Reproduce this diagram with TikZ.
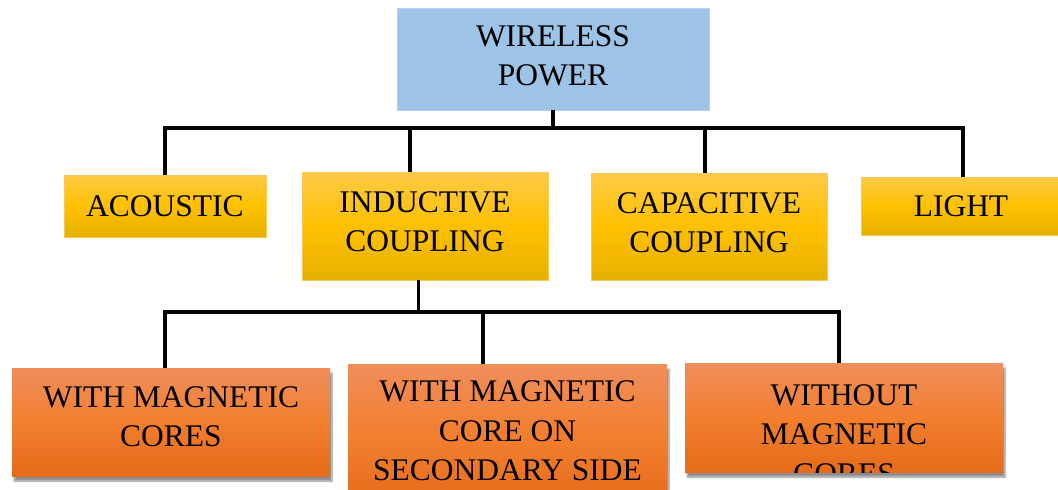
\documentclass[tikz,border=0pt]{standalone}
\usepackage{fontspec}
\setmainfont{Liberation Serif}
\usetikzlibrary{positioning,shadows.blur}
\definecolor{wpblue}{RGB}{157,195,230}
\definecolor{wpblueline}{RGB}{182,211,238}
\definecolor{goldtop}{RGB}{255,202,70}
\definecolor{goldmid}{RGB}{255,192,0}
\definecolor{goldbot}{RGB}{229,177,0}
\definecolor{goldline}{RGB}{250,200,90}
\definecolor{orgtop}{RGB}{240,142,92}
\definecolor{orgmid}{RGB}{242,126,46}
\definecolor{orgbot}{RGB}{228,108,26}

\begin{document}
\begin{tikzpicture}[x=1pt,y=-1pt,
  box/.style={rectangle,inner sep=0pt,outer sep=0pt,align=center,
    font=\fontsize{31.5}{39.5}\selectfont},
  topbox/.style={box,fill=wpblue,draw=wpblueline,line width=0.8pt},
  goldbox/.style={box,top color=goldtop,bottom color=goldbot,middle color=goldmid,
    draw=goldline,line width=0.8pt},
  orgbox/.style={box,top color=orgtop,bottom color=orgbot,middle color=orgmid,
    blur shadow={shadow xshift=2pt,shadow yshift=-5pt,shadow blur steps=6,shadow opacity=45}},
  tree/.style={line width=3.5pt}]
\clip (0,0) rectangle (1058,490);
% root
\node[topbox,minimum width=312pt,minimum height=102pt,text depth=7pt] (wp) at (553,59) {WIRELESS\\POWER};
% second row
\node[goldbox,minimum width=202pt,minimum height=62pt] (aco) at (165,206) {ACOUSTIC};
\node[goldbox,minimum width=246pt,minimum height=108pt,text depth=9pt] (ind) at (425,226) {INDUCTIVE\\COUPLING};
\node[goldbox,minimum width=236pt,minimum height=107pt,text depth=8pt] (cap) at (709,226.5) {CAPACITIVE\\COUPLING};
\node[goldbox,minimum width=200pt,minimum height=58pt] (light) at (961,206) {LIGHT};
% third row
\node[orgbox,minimum width=318pt,minimum height=108pt,text depth=11pt] (cores) at (171,422) {WITH MAGNETIC\\CORES};
\node[orgbox,minimum width=319pt,minimum height=144pt,text depth=10pt] (sec) at (507.5,436) {WITH MAGNETIC\\CORE ON\\SECONDARY SIDE};
\node[orgbox,minimum width=318pt,minimum height=109pt,
  path picture={\node[anchor=north,inner sep=0pt,align=center,font=\fontsize{31.5}{39.5}\selectfont]
    at ([yshift=-17pt]path picture bounding box.north) {WITHOUT\\MAGNETIC\\CORES};}] (nomag) at (844,417.5) {};
% connectors
\coordinate (busA) at (0,128);
\coordinate (busB) at (0,312);
\draw[tree] (wp.south) -- (wp.south |- busA);
\draw[tree] (aco.north) |- ([xshift=2pt]light.north |- busA) -- ([xshift=2pt]light.north);
\draw[tree] ([xshift=-15pt]ind.north) -- ([xshift=-15pt]ind.north |- busA);
\draw[tree] ([xshift=-4pt]cap.north) -- ([xshift=-4pt]cap.north |- busA);
\draw[tree] ([xshift=-6.5pt]ind.south) -- ([xshift=-6.5pt]ind.south |- busB);
\draw[tree] ([xshift=-6pt]cores.north) |- ([xshift=-5pt]nomag.north |- busB) -- ([xshift=-5pt]nomag.north);
\draw[tree] ([xshift=-24.5pt]sec.north) -- ([xshift=-24.5pt]sec.north |- busB);
\end{tikzpicture}
\end{document}
